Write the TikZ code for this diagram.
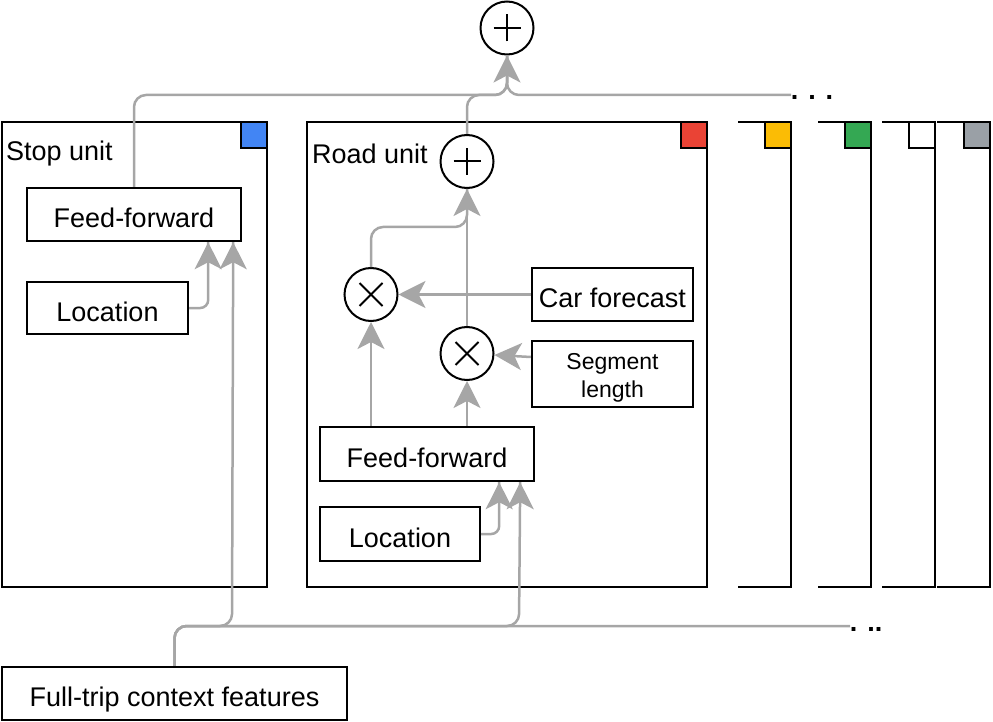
\documentclass[tikz,border=0pt]{standalone}
\usepackage{fontspec}
\setmainfont{Liberation Sans}
\usetikzlibrary{arrows.meta,calc}
\definecolor{gline}{HTML}{A6A6A6}
\definecolor{gblue}{HTML}{4285F4}
\definecolor{gred}{HTML}{EA4335}
\definecolor{gyellow}{HTML}{FBBC05}
\definecolor{ggreen}{HTML}{34A853}
\definecolor{ggray}{HTML}{9AA0A6}
\tikzset{
  unitbox/.style={draw=black, line width=2.4pt, inner sep=0pt},
  unitline/.style={draw=black, line width=2.4pt},
  sqbox/.style={draw=black, line width=2.4pt, minimum size=26pt, inner sep=0pt},
  tbox/.style={draw=black, line width=2.4pt, inner sep=2pt, font=\fontsize{27}{32}\selectfont, align=center, text height=26pt, text depth=0pt},
  lbl/.style={inner sep=2pt, font=\fontsize{27}{32}\selectfont, anchor=west},
  dots/.style={inner sep=0pt, font=\bfseries\fontsize{27}{32}\selectfont},
  opc/.style={circle, draw=black, line width=2pt, minimum size=53pt, inner sep=0pt},
  plusc/.style={opc, path picture={
      \draw[line width=2pt] ($(path picture bounding box.center)+(-13.5pt,0pt)$) -- ++(27pt,0pt);
      \draw[line width=2pt] ($(path picture bounding box.center)+(0pt,-13.5pt)$) -- ++(0pt,27pt);}},
  timesc/.style={opc, path picture={
      \draw[line width=2pt] ($(path picture bounding box.center)+(-11.5pt,-11.5pt)$) -- ++(23pt,23pt);
      \draw[line width=2pt] ($(path picture bounding box.center)+(-11.5pt,11.5pt)$) -- ++(23pt,-23pt);}},
  garrow/.style={draw=gline, line width=2.5pt, -{Stealth[length=27pt, width=27pt, inset=7pt]}},
  gplain/.style={draw=gline, line width=2.5pt, rounded corners=12pt},
}
\begin{document}
\begin{tikzpicture}[x=1pt,y=-1pt]
\useasboundingbox (0,0) rectangle (993,722);

% unit containers
\node[unitbox, minimum width=265pt, minimum height=465pt] (stop) at (134.5,354.5) {};
\node[unitbox, minimum width=400pt, minimum height=465pt] (road) at (507,354.5) {};
\draw[unitline] (738,122) -- (791,122) -- (791,587) -- (738,587);
\draw[unitline] (818,122) -- (871,122) -- (871,587) -- (818,587);
\draw[unitline] (882,122) -- (935,122) -- (935,587) -- (882,587);
\draw[unitline] (937,122) -- (990,122) -- (990,587) -- (937,587);

% colour squares
\node[sqbox, fill=gblue] (sqblue) at (254,135) {};
\node[sqbox, fill=gred] (sqred) at (694,135) {};
\node[sqbox, fill=gyellow] (sqyellow) at (778,135) {};
\node[sqbox, fill=ggreen] (sqgreen) at (858,135) {};
\node[sqbox, fill=white] (sqwhite) at (922,135) {};
\node[sqbox, fill=ggray] (sqgray) at (977,135) {};

% labels
\node[lbl] (stoplbl) at (4,154) {Stop unit};
\node[lbl] (roadlbl) at (310,154) {Road unit};

% stop unit
\node[tbox, minimum width=214pt, minimum height=53pt] (sff) at (134,214.5) {Feed-forward};
\node[tbox, minimum width=161pt, minimum height=52pt] (sloc) at (107.5,308) {Location};

% road unit
\node[plusc] (rplus) at (467,161.5) {};
\node[timesc] (t1) at (371,294.5) {};
\node[timesc] (t2) at (467,353.5) {};
\node[tbox, minimum width=161pt, minimum height=53pt] (car) at (612.5,294.5) {Car forecast};
\node[tbox, minimum width=161pt, minimum height=66pt, font=\fontsize{23}{29}\selectfont, text height=, text depth=] (seg) at (612.5,374)
  {\raisebox{-4pt}[\height][\depth]{\begin{tabular}{@{}c@{}}Segment\\[-1pt]length\end{tabular}}};
\node[tbox, minimum width=214pt, minimum height=54pt] (rff) at (427,454) {Feed-forward};
\node[tbox, minimum width=160pt, minimum height=54pt] (rloc) at (400,534) {Location};

% top
\node[plusc] (tplus) at (507,28) {};
\node[dots] (dtop) at (812,97) {. . .};
\node[dots] (dbot) at (866,629) {. ..};

% context
\node[tbox, minimum width=345pt, minimum height=53pt] (ctx) at (174.5,693.5) {Full-trip context features};

% coordinates
\coordinate (jtop) at (507,95);
\coordinate (tline) at (791,95);
\coordinate (cj) at (ctx.north |- 0,626);
\coordinate (bline) at (850,626);
\coordinate (sffin1) at ($(sff.south east)+(-34pt,0pt)$);
\coordinate (sffin2) at ($(sff.south east)+(-9pt,0pt)$);
\coordinate (rffin1) at ($(rff.south east)+(-36pt,0pt)$);
\coordinate (rffin2) at ($(rff.south east)+(-15pt,0pt)$);

% connectors to top plus
\draw[gplain] (sff.north) |- (jtop) -- (tplus.south);
\draw[gplain] (rplus.north) |- (jtop) -- (tplus.south);
\draw[gplain] (tline) -- (jtop) -- (tplus.south);
\draw[garrow] ($(jtop)+(0pt,12pt)$) -- (tplus.south);

% road unit internals
\draw[gplain] (t1.north) -- (371,227) -- (467,227) -- (rplus.south);
\draw[garrow] (t2.north) -- (rplus.south);
\draw[garrow] (car.west) -- (t1.east);
\draw[garrow] ([yshift=17pt]seg.west) -- (t2);
\draw[garrow] (t1.south |- rff.north) -- (t1.south);
\draw[garrow] (t2.south |- rff.north) -- (t2.south);
\draw[gplain, rounded corners=8pt] (rloc.east) -| (rffin1);
\draw[garrow] ($(rffin1)+(0pt,-30pt)$) -- (rffin1);

% stop unit internals
\draw[gplain, rounded corners=8pt] (sloc.east) -| (sffin1);
\draw[garrow] ($(sffin1)+(0pt,-40pt)$) -- (sffin1);

% context connectors
\draw[gplain] (ctx.north) -- (cj) -- (232,626) -- (sffin2);
\draw[garrow] ($(sffin2)+(0pt,-100pt)$) -- (sffin2);
\draw[gplain] (ctx.north) -- (cj) -- (519,626) -- (rffin2);
\draw[garrow] ($(rffin2)+(0pt,-60pt)$) -- (rffin2);
\draw[gplain] (ctx.north) -- (cj) -- (bline);
\end{tikzpicture}
\end{document}
